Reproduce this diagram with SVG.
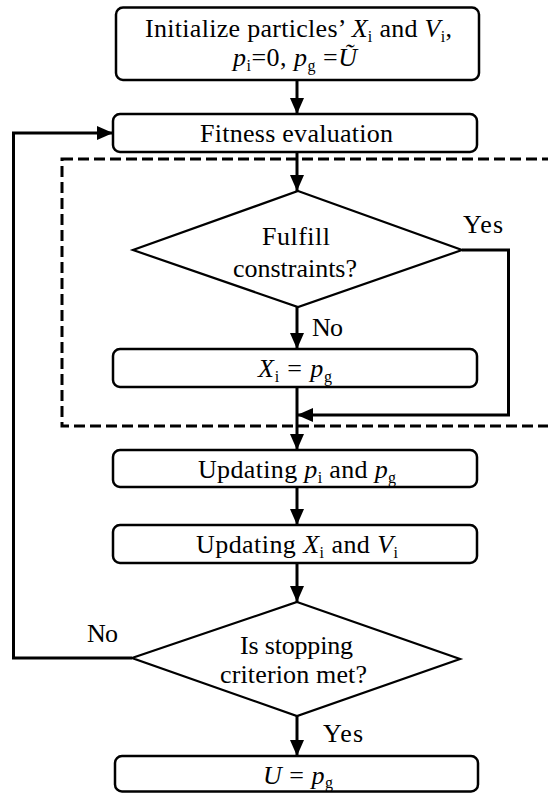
<svg xmlns="http://www.w3.org/2000/svg" width="548" height="793" viewBox="0 0 548 793">
  <defs>
    <marker id="arrow" markerUnits="userSpaceOnUse" markerWidth="16" markerHeight="14" refX="16" refY="7" orient="auto">
      <path d="M0,0 L16,7 L0,14 Z" fill="#000"/>
    </marker>
    <style>
      .box { fill: #fff; stroke: #000; stroke-width: 2.5; }
      .dia { fill: #fff; stroke: #000; stroke-width: 2.2; }
      .conn { fill: none; stroke: #000; stroke-width: 3; }
      .dash { fill: none; stroke: #000; stroke-width: 3; stroke-dasharray: 11 5; }
      text { font-family: "Liberation Serif", "Times New Roman", serif; font-size: 26px; fill: #000; }
      .it { font-style: italic; }
      .sub { font-size: 16px; }
    </style>
  </defs>

  <rect width="548" height="793" fill="#fff"/>

  <!-- dashed frame around the constraint check -->
  <rect class="dash" x="62" y="159" width="510" height="267"/>

  <g id="connectors">
    <line class="conn" x1="297" y1="80" x2="297" y2="114" marker-end="url(#arrow)"/>
    <line class="conn" x1="297" y1="152" x2="297" y2="191" marker-end="url(#arrow)"/>
    <line class="conn" x1="297" y1="307" x2="297" y2="349" marker-end="url(#arrow)"/>
    <line class="conn" x1="297" y1="387" x2="297" y2="450" marker-end="url(#arrow)"/>
    <path class="conn" d="M462,250 H508.5 V415 H297" stroke-width="3.5" marker-end="url(#arrow)"/>
    <line class="conn" x1="297" y1="487" x2="297" y2="525" marker-end="url(#arrow)"/>
    <line class="conn" x1="297" y1="563" x2="297" y2="602" marker-end="url(#arrow)"/>
    <line class="conn" x1="297" y1="716" x2="297" y2="756" marker-end="url(#arrow)"/>
    <path class="conn" d="M132,658 H13.5 V133 H113" marker-end="url(#arrow)"/>
    <text x="463" y="233" textLength="40" lengthAdjust="spacing">Yes</text>
    <text x="312" y="336" textLength="31" lengthAdjust="spacing">No</text>
    <text x="87" y="642" textLength="31" lengthAdjust="spacing">No</text>
    <text x="323" y="742" textLength="40" lengthAdjust="spacing">Yes</text>
  </g>

  <g id="init">
    <rect class="box" x="116" y="7.5" width="363" height="72.5" rx="7"/>
    <text x="145" y="37" textLength="307" lengthAdjust="spacing">Initialize particles’ <tspan class="it">X</tspan><tspan class="sub" dy="5">i</tspan><tspan dy="-5"> and </tspan><tspan class="it">V</tspan><tspan class="sub" dy="5">i</tspan><tspan dy="-5">,</tspan></text>
    <text x="233" y="66" textLength="124" lengthAdjust="spacing"><tspan class="it">p</tspan><tspan class="sub" dy="5">i</tspan><tspan dy="-5">=0, </tspan><tspan class="it">p</tspan><tspan class="sub" dy="5">g</tspan><tspan dy="-5"> =</tspan><tspan class="it">Ũ</tspan></text>
  </g>

  <g id="fitness">
    <rect class="box" x="113" y="114" width="364" height="38" rx="7"/>
    <text x="200" y="142" textLength="193" lengthAdjust="spacing">Fitness evaluation</text>
  </g>

  <g id="constraints">
    <polygon class="dia" points="298,191 462,250 298,307 133,250"/>
    <text x="262" y="245" textLength="68" lengthAdjust="spacing">Fulfill</text>
    <text x="233" y="277" textLength="124" lengthAdjust="spacing">constraints?</text>
  </g>

  <g id="reset">
    <rect class="box" x="113" y="349" width="364" height="38" rx="7"/>
    <text x="258" y="377" textLength="74" lengthAdjust="spacing"><tspan class="it">X</tspan><tspan class="sub" dy="5">i</tspan><tspan dy="-5"> = </tspan><tspan class="it">p</tspan><tspan class="sub" dy="5">g</tspan></text>
  </g>

  <g id="update-best">
    <rect class="box" x="113" y="450" width="364" height="37" rx="7"/>
    <text x="198" y="478" textLength="198" lengthAdjust="spacing">Updating <tspan class="it">p</tspan><tspan class="sub" dy="5">i</tspan><tspan dy="-5"> and </tspan><tspan class="it">p</tspan><tspan class="sub" dy="5">g</tspan></text>
  </g>

  <g id="update-state">
    <rect class="box" x="113" y="525" width="364" height="38" rx="7"/>
    <text x="196" y="553" textLength="202" lengthAdjust="spacing">Updating <tspan class="it">X</tspan><tspan class="sub" dy="5">i</tspan><tspan dy="-5"> and </tspan><tspan class="it">V</tspan><tspan class="sub" dy="5">i</tspan></text>
  </g>

  <g id="stop">
    <polygon class="dia" points="297,602 460,659 297,716 132,658"/>
    <text x="240" y="654" textLength="113" lengthAdjust="spacing">Is stopping</text>
    <text x="220" y="683" textLength="147" lengthAdjust="spacing">criterion met?</text>
  </g>

  <g id="result">
    <rect class="box" x="115" y="756" width="363" height="35.5" rx="7"/>
    <text x="263" y="784" textLength="70" lengthAdjust="spacing"><tspan class="it">U</tspan> = <tspan class="it">p</tspan><tspan class="sub" dy="4">g</tspan></text>
  </g>
</svg>
